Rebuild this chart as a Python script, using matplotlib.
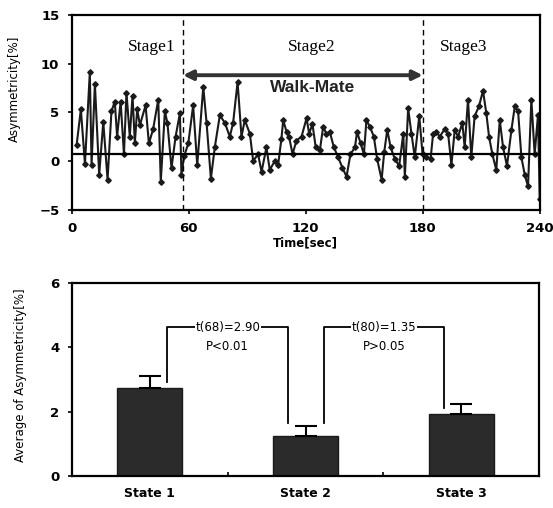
import numpy as np
import matplotlib.pyplot as plt

# time series (sec, asymmetricity %)
time_sec = [2.4, 4.6, 6.7, 9.2, 10.1, 11.8, 14.0, 16.1, 18.3, 20.3, 22.0, 23.2, 25.0, 26.7,
            28.0, 29.7, 31.1, 32.3, 33.5, 34.9, 37.8, 39.5, 41.7, 44.3, 45.6, 47.7, 49.0,
            51.1, 53.2, 55.4, 56.2, 57.6, 59.7, 62.2, 64.3, 67.4, 69.1, 71.3, 73.3, 75.9,
            78.5, 81.0, 82.7, 85.0, 87.0, 88.7, 91.3, 93.0, 95.5, 97.3, 99.8, 101.5, 104.1,
            105.8, 107.5, 108.4, 110.1, 111.4, 113.2, 115.2, 117.8, 120.4, 121.7, 123.4,
            125.1, 127.2, 128.9, 130.6, 132.3, 134.4, 136.6, 138.8, 140.9, 142.9, 145.2,
            146.3, 148.1, 149.8, 151.1, 152.9, 154.9, 156.6, 158.9, 160.2, 161.8, 163.5,
            165.7, 167.9, 170.0, 170.8, 172.5, 174.2, 175.9, 178.2, 179.9, 181.9, 184.0,
            185.3, 187.0, 188.7, 191.3, 193.0, 194.7, 196.4, 198.1, 200.3, 201.5, 203.2,
            204.9, 206.6, 208.8, 210.9, 212.6, 214.0, 215.7, 217.7, 219.5, 221.2, 223.2,
            225.5, 227.2, 228.9, 230.6, 232.3, 234.0, 235.7, 237.4, 239.1, 240.0]
asym = [1.6, 5.3, -0.3, 9.1, -0.4, 7.9, -1.4, 4.0, -1.9, 5.1, 6.1, 2.5, 6.1, 0.7,
        7.0, 2.5, 6.7, 1.9, 5.3, 3.7, 5.7, 1.8, 3.3, 6.3, -2.1, 5.1, 3.9,
        -0.7, 2.5, 4.9, -1.4, 0.5, 1.8, 5.7, -0.4, 7.6, 3.9, -1.8, 1.4, 4.7,
        3.9, 2.5, 3.9, 8.1, 2.5, 4.2, 2.8, 0.0, 0.7, -1.1, 1.4, -0.9, 0.0,
        -0.4, 2.3, 4.2, 3.0, 2.5, 0.7, 2.1, 2.5, 4.4, 2.8, 3.8,
        1.4, 1.1, 3.5, 2.8, 3.0, 1.4, 0.4, -0.7, -1.6, 0.7, 1.4,
        3.0, 1.8, 0.7, 4.2, 3.5, 2.5, 0.2, -1.9, 0.9, 3.2, 1.4,
        0.2, -0.5, 2.8, -1.6, 5.4, 2.8, 0.4, 4.6, 0.7, 0.4, 0.2,
        2.8, 3.0, 2.5, 3.3, 2.8, -0.4, 3.2, 2.5, 3.9, 1.4, 6.3,
        0.4, 4.6, 5.6, 7.2, 4.9, 2.5, 0.7, -0.9, 4.2, 1.4, -0.5,
        3.2, 5.6, 5.1, 0.4, -1.4, -2.6, 6.3, 0.7, 4.7, -3.9]
mean_asym = 0.7
stage_bounds = [57, 180]

states = ['State 1', 'State 2', 'State 3']
state_avg = [2.72, 1.25, 1.93]
state_err = [0.38, 0.30, 0.31]

plt.rcParams['font.family'] = 'DejaVu Sans'

fig = plt.figure(figsize=(5.53, 5.08), dpi=100)

# ---- top: time series
ax1 = fig.add_axes([0.130, 0.587, 0.846, 0.384])
ax1.plot(time_sec, asym, color='#1a1a1a', lw=1.5, marker='D', ms=2.8)
ax1.axhline(mean_asym, color='black', lw=1.6)
for b in stage_bounds:
    ax1.axvline(b, color='black', lw=1, ls=(0, (4, 3)))
ax1.set_xlim(0, 240)
ax1.set_ylim(-5, 15)
ax1.set_xticks([0, 60, 120, 180, 240])
ax1.set_yticks([-5, 0, 5, 10, 15])
ax1.set_xlabel('Time[sec]', fontsize=8.5, fontweight='bold', labelpad=1)
ax1.set_ylabel('Asymmetricity[%]', fontsize=8.5)
ax1.yaxis.set_label_coords(-0.11, 0.62)
for lab in ax1.get_xticklabels() + ax1.get_yticklabels():
    lab.set_fontweight('bold')
    lab.set_fontsize(9.5)
ax1.tick_params(length=3, width=1.2, pad=6)
for s in ax1.spines.values():
    s.set_linewidth(1.6)

ax1.text(41, 11.7, 'Stage1', family='Liberation Serif', fontsize=12.5, ha='center', va='center')
ax1.text(123, 11.7, 'Stage2', family='Liberation Serif', fontsize=12.5, ha='center', va='center')
ax1.text(201, 11.7, 'Stage3', family='Liberation Serif', fontsize=12.5, ha='center', va='center')
ax1.annotate('', xy=(stage_bounds[0], 8.8), xytext=(stage_bounds[1], 8.8),
             arrowprops=dict(arrowstyle='<|-|>', color='#333333', lw=2.8,
                             mutation_scale=14, shrinkA=0, shrinkB=0))
ax1.text(123.5, 7.5, 'Walk-Mate', family='Liberation Sans', fontsize=12.5,
         fontweight='bold', color='#222222', ha='center', va='center')

# ---- bottom: bar chart
ax2 = fig.add_axes([0.130, 0.063, 0.845, 0.380])
x = np.arange(len(states))
ax2.bar(x, state_avg, width=0.42, color='#2b2b2b', edgecolor='#1a1a1a')
ax2.errorbar(x, state_avg, yerr=[np.zeros(3), state_err], fmt='none',
             ecolor='black', elinewidth=1.5, capsize=8, capthick=1.5)
ax2.set_xlim(-0.5, 2.5)
ax2.set_ylim(0, 6)
ax2.set_yticks([0, 2, 4, 6])
ax2.set_xticks(x)
ax2.set_xticklabels(states, fontsize=9, fontweight='bold')
ax2.set_xticks([0.5, 1.5], minor=True)
ax2.tick_params(axis='x', which='major', length=0, pad=8)
ax2.tick_params(axis='x', which='minor', direction='in', length=3, width=1.2)
ax2.tick_params(axis='y', length=3, width=1.2, pad=6)
for lab in ax2.get_yticklabels():
    lab.set_fontweight('bold')
    lab.set_fontsize(9.5)
ax2.set_ylabel('Average of Asymmetricity[%]', fontsize=8.5)
ax2.yaxis.set_label_coords(-0.096, 0.52)
for s in ax2.spines.values():
    s.set_linewidth(1.6)

# significance brackets
brackets = [(0.11, 2.93, 0.89, 1.65, 't(68)=2.90', 'P<0.01'),
            (1.12, 1.65, 1.89, 2.10, 't(80)=1.35', 'P>0.05')]
for x0, y0, x1, y1, t_txt, p_txt in brackets:
    top = 4.63
    ax2.plot([x0, x0, x1, x1], [y0, top, top, y1], color='black', lw=1.3)
    xm = (x0 + x1) / 2
    ax2.text(xm, top, t_txt, fontsize=8.5, ha='center', va='center',
             bbox=dict(fc='white', ec='none', pad=0.5))
    ax2.text(xm, 4.02, p_txt, fontsize=8.5, ha='center', va='center')

fig.savefig('out.png', dpi=100)
